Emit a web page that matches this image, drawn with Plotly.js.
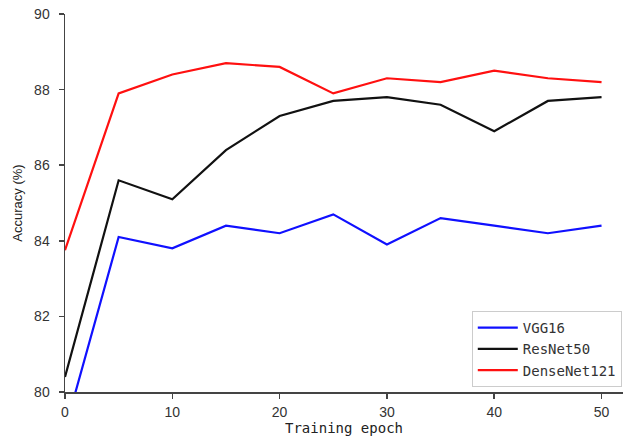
<!DOCTYPE html>
<html>
<head>
<meta charset="utf-8">
<script src="https://cdn.plot.ly/plotly-3.0.1.min.js"></script>
<style>html,body{margin:0;padding:0;background:#fff;}#chart{width:623px;height:441px;}</style>
</head>
<body>
<div id="chart"></div>
<script>
const epochs = [0, 5, 10, 15, 20, 25, 30, 35, 40, 45, 50];
const vgg16 = [79.0, 84.1, 83.8, 84.4, 84.2, 84.7, 83.9, 84.6, 84.4, 84.2, 84.4];
const resnet50 = [80.4, 85.6, 85.1, 86.4, 87.3, 87.7, 87.8, 87.6, 86.9, 87.7, 87.8];
const densenet121 = [83.75, 87.9, 88.4, 88.7, 88.6, 87.9, 88.3, 88.2, 88.5, 88.3, 88.2];
const seriesNames = ["VGG16", "ResNet50", "DenseNet121"];
const xTicks = [0, 10, 20, 30, 40, 50];
const yTicks = [80, 82, 84, 86, 88, 90];

const colors = ["#1010ff", "#111111", "#ff1010"];
const data = [vgg16, resnet50, densenet121].map((ys, i) => ({
  x: epochs, y: ys, type: "scatter", mode: "lines", name: seriesNames[i],
  line: {color: colors[i], width: 2.2}, cliponaxis: true
}));

const layout = {
  width: 623, height: 441,
  margin: {l: 65, r: 0, t: 14, b: 49},
  paper_bgcolor: "#fff", plot_bgcolor: "#fff",
  showlegend: true,
  legend: {
    x: 0.729, y: 0.214, xanchor: "left", yanchor: "top",
    bgcolor: "#fff", bordercolor: "#cccccc", borderwidth: 1,
    font: {family: "DejaVu Sans Mono", size: 14, color: "#333"},
    tracegroupgap: 0, itemwidth: 40
  },
  xaxis: {
    range: [0, 52], tickvals: xTicks, ticktext: xTicks.map(String),
    showgrid: false, zeroline: false, showline: true, linecolor: "#444", linewidth: 1.5,
    ticks: "outside", ticklen: 5, tickcolor: "#444", tickwidth: 1.5, ticklabelstandoff: 2,
    tickfont: {family: "Liberation Sans", size: 14, color: "#333"},
    title: {text: "Training epoch", font: {family: "DejaVu Sans Mono", size: 14, color: "#222"}, standoff: 4}
  },
  yaxis: {
    range: [80, 90], tickvals: yTicks, ticktext: yTicks.map(String),
    showgrid: false, zeroline: false, showline: true, linecolor: "#444", linewidth: 1.5,
    ticks: "outside", ticklen: 5, tickcolor: "#444", tickwidth: 1.5, ticklabelstandoff: 6,
    tickfont: {family: "Liberation Sans", size: 14, color: "#333"},
    title: {text: "Accuracy (%)", font: {family: "Liberation Sans", size: 13, color: "#222"}, standoff: 8}
  }
};
Plotly.newPlot("chart", data, layout, {displayModeBar: false, staticPlot: true});
</script>
</body>
</html>
